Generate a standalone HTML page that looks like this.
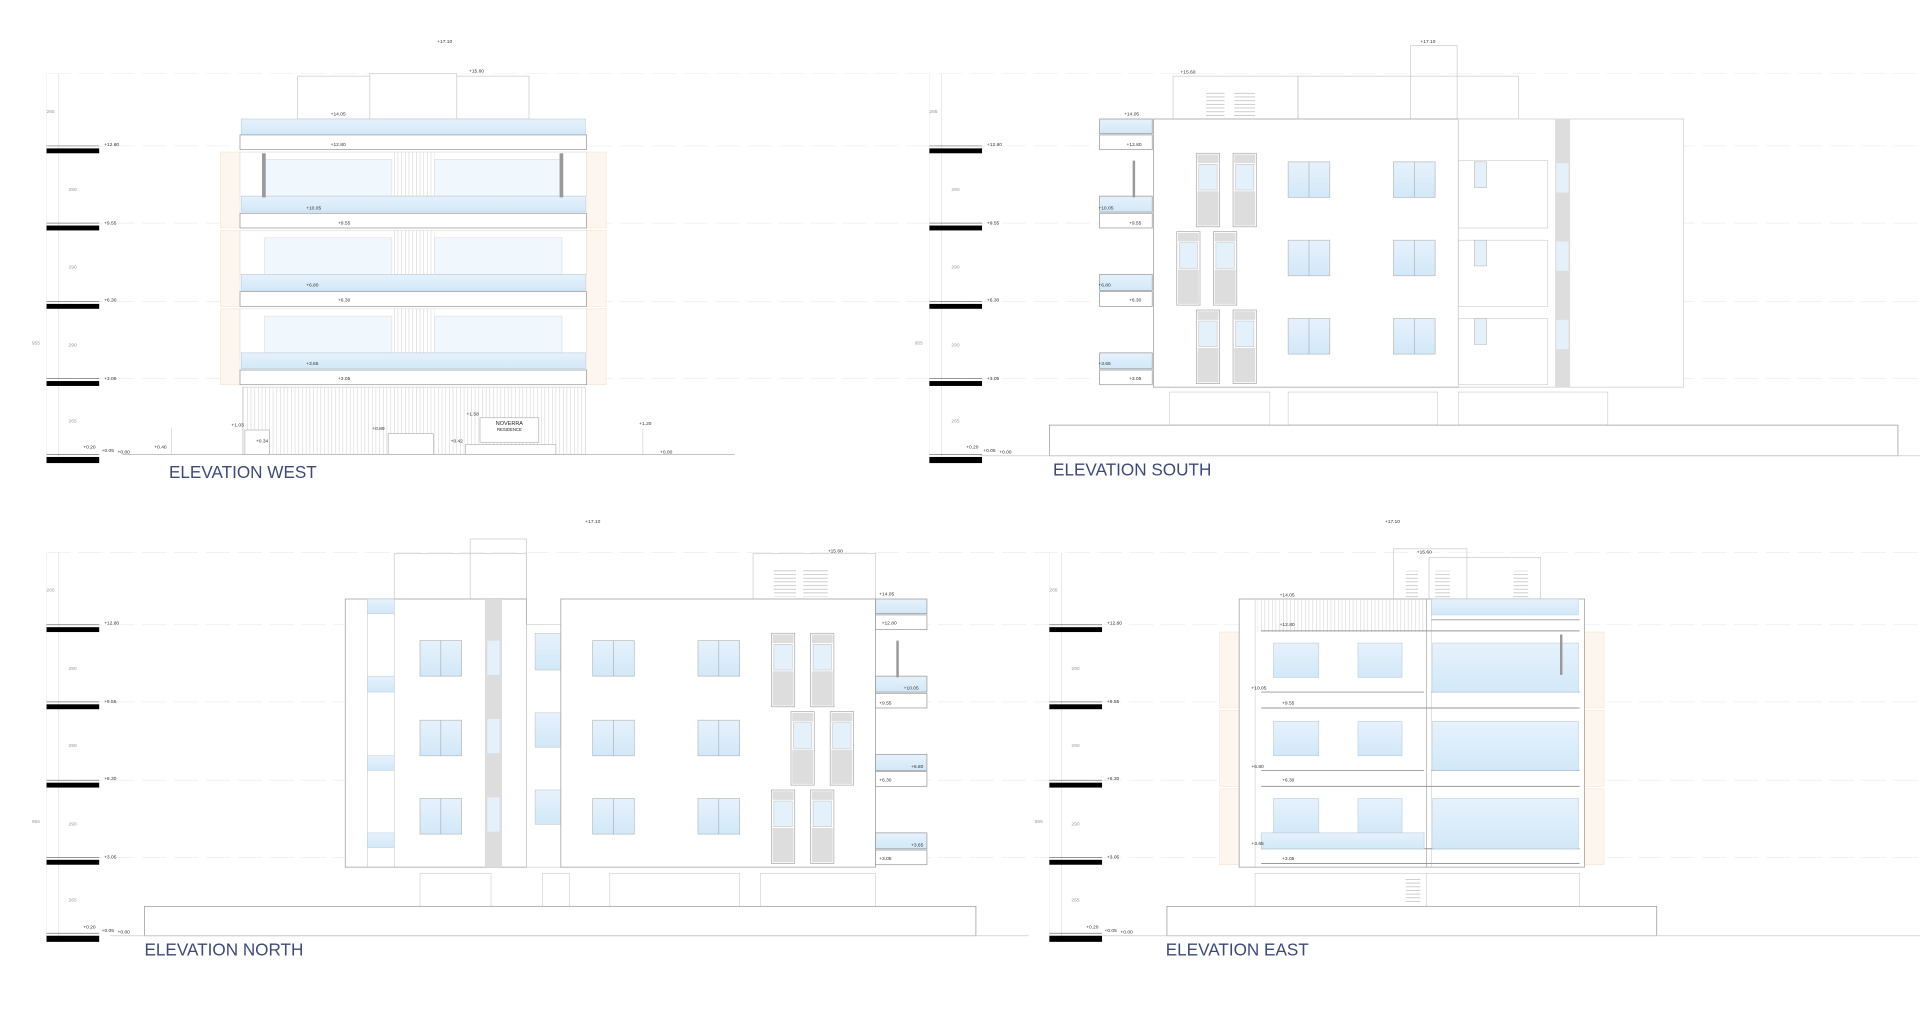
<!DOCTYPE html>
<html><head><meta charset="utf-8"><style>
html,body{margin:0;padding:0;background:#fff;width:1920px;height:1018px;overflow:hidden}
svg{display:block}
text{font-family:"Liberation Sans",sans-serif}
.t{font-size:4px;fill:#333}
.d{font-size:4px;fill:#999}
.ttl{font-size:14px;fill:#3d4a78}
</style></head><body>
<svg width="1920" height="1018" viewBox="0 0 1568 831" xmlns="http://www.w3.org/2000/svg">
<defs>
<g id="lv"><line x1="0" y1="-4" x2="43" y2="-4" stroke="#777" stroke-width="0.6"/><rect x="0" y="-2" width="43" height="4" fill="#000"/></g>
<g id="dim">
<line x1="10" y1="60" x2="10" y2="378" stroke="#ddd" stroke-width="0.5"/>
<line x1="0" y1="60" x2="0" y2="378" stroke="#eee" stroke-width="0.5"/>
<use href="#lv" x="0" y="123"/><use href="#lv" x="0" y="186"/><use href="#lv" x="0" y="250"/><use href="#lv" x="0" y="313"/>
<rect x="0" y="373" width="43" height="5" fill="#000"/><line x1="0" y1="371" x2="43" y2="371" stroke="#777" stroke-width="0.6"/>
<text class="d" x="0" y="92">265</text><text class="d" x="18" y="156">290</text><text class="d" x="18" y="219">290</text><text class="d" x="18" y="283">290</text><text class="d" x="18" y="345">265</text><text class="d" x="-12" y="281">955</text>
<text class="t" x="47" y="119">+12.80</text><text class="t" x="47" y="183">+9.55</text><text class="t" x="47" y="246">+6.30</text><text class="t" x="47" y="310">+3.05</text>
</g>
<pattern id="vl" width="3" height="10" patternUnits="userSpaceOnUse"><line x1="1" y1="0" x2="1" y2="10" stroke="#ccc" stroke-width="0.4"/></pattern>
<pattern id="lv2" width="10" height="3" patternUnits="userSpaceOnUse"><line x1="0" y1="1" x2="10" y2="1" stroke="#bbb" stroke-width="0.6"/></pattern>
<linearGradient id="gl" x1="0" y1="0" x2="0" y2="1"><stop offset="0" stop-color="#e6f2fc"/><stop offset="1" stop-color="#d2e8f8"/></linearGradient>
<g id="tw"><rect x="0" y="0" width="19" height="60" fill="#fff" stroke="#aaa" stroke-width="0.6"/><rect x="1" y="1" width="17" height="7" fill="#ddd"/><rect x="2" y="9" width="15" height="21" fill="#e4f0fa" stroke="#bbb" stroke-width="0.4"/><rect x="1" y="31" width="17" height="28" fill="#ddd"/></g>
<g id="sw"><rect x="0" y="0" width="34" height="29" fill="url(#gl)" stroke="#bbb" stroke-width="0.6"/><line x1="17" y1="0" x2="17" y2="29" stroke="#aaa" stroke-width="0.5"/></g>
<g id="wfloor">
<rect x="196" y="124" width="283" height="36" fill="#fff" stroke="#ddd" stroke-width="0.5"/>
<rect x="216" y="130" width="104" height="30" fill="#f0f7fd" stroke="#dde" stroke-width="0.5"/>
<rect x="355" y="130" width="104" height="30" fill="#f0f7fd" stroke="#dde" stroke-width="0.5"/>
<rect x="320" y="124" width="35" height="36" fill="url(#vl)"/>
<rect x="197" y="160" width="281" height="13" fill="url(#gl)" stroke="#bcd" stroke-width="0.5"/>
<rect x="196" y="174" width="283" height="12" fill="#fff" stroke="#999" stroke-width="0.6"/>
</g>
</defs>

<g stroke="#eee" stroke-width="0.6" stroke-dasharray="20 6">
<line x1="38" y1="60" x2="1568" y2="60"/><line x1="38" y1="119" x2="1568" y2="119"/><line x1="38" y1="182" x2="1568" y2="182"/><line x1="38" y1="246" x2="1568" y2="246"/><line x1="38" y1="309" x2="1568" y2="309"/>
<line x1="38" y1="451" x2="1568" y2="451"/><line x1="38" y1="510" x2="1568" y2="510"/><line x1="38" y1="573" x2="1568" y2="573"/><line x1="38" y1="637" x2="1568" y2="637"/><line x1="38" y1="700" x2="1568" y2="700"/>
</g>

<use href="#dim" x="38" y="0"/>
<use href="#dim" x="759" y="0"/>
<use href="#dim" x="38" y="391"/>
<use href="#dim" x="857" y="391"/>

<!-- ================= WEST ================= -->
<g stroke="#ccc" stroke-width="0.6" fill="none">
<rect x="243" y="62" width="189" height="35"/><rect x="302" y="60" width="71" height="37" fill="#fff"/>
</g>
<text class="t" x="357" y="35">+17.10</text><text class="t" x="383" y="59">+15.60</text>
<g fill="#fdf6ee" stroke="#f4e4d2" stroke-width="0.5">
<rect x="180" y="124" width="16" height="62"/><rect x="479" y="124" width="16" height="62"/>
<rect x="180" y="188" width="16" height="62"/><rect x="479" y="188" width="16" height="62"/>
<rect x="180" y="252" width="16" height="62"/><rect x="479" y="252" width="16" height="62"/>
</g>
<rect x="197" y="97" width="281" height="13" fill="url(#gl)" stroke="#bcd" stroke-width="0.5"/>
<rect x="196" y="110" width="283" height="12" fill="#fff" stroke="#999" stroke-width="0.6"/>
<use href="#wfloor" x="0" y="0"/><use href="#wfloor" x="0" y="64"/><use href="#wfloor" x="0" y="128"/>
<rect x="214" y="125" width="3" height="36" fill="#999"/><rect x="457" y="125" width="3" height="36" fill="#999"/>
<g class="t"><text x="270" y="94">+14.05</text><text x="270" y="119">+12.80</text><text x="250" y="171">+10.05</text><text x="276" y="183">+9.55</text><text x="250" y="234">+6.80</text><text x="276" y="246">+6.30</text><text x="250" y="298">+3.65</text><text x="276" y="310">+3.05</text></g>
<rect x="198" y="316" width="280" height="55" fill="url(#vl)" stroke="#ccc" stroke-width="0.5"/>
<g stroke="#aaa" stroke-width="0.5" fill="#fff">
<rect x="200" y="351" width="20" height="20"/><rect x="317" y="354" width="37" height="17"/><rect x="380" y="363" width="74" height="8"/>
<rect x="392" y="341" width="48" height="20"/>
</g>
<text x="416" y="347" font-size="4.5" text-anchor="middle" fill="#222">NOVERRA</text><text x="416" y="352" font-size="3.5" text-anchor="middle" fill="#222">RESIDENCE</text>
<g class="t"><text x="189" y="348">+1.03</text><text x="209" y="361">+0.34</text><text x="304" y="351">+0.89</text><text x="368" y="361">+0.42</text><text x="381" y="339">+1.58</text><text x="522" y="347">+1.20</text><text x="126" y="366">+0.40</text><text x="68" y="366">+0.20</text><text x="83" y="369">+0.05</text><text x="96" y="370">+0.00</text><text x="539" y="370">+0.00</text></g>
<line x1="100" y1="371" x2="600" y2="371" stroke="#bbb" stroke-width="0.7"/>
<line x1="140" y1="349" x2="140" y2="371" stroke="#ccc" stroke-width="0.5"/><line x1="525" y1="350" x2="525" y2="371" stroke="#ccc" stroke-width="0.5"/>
<text class="ttl" x="138" y="390">ELEVATION WEST</text>

<!-- ================= SOUTH ================= -->
<g stroke="#ccc" stroke-width="0.6" fill="none">
<rect x="958" y="62" width="102" height="35"/><rect x="1152" y="37" width="38" height="60"/><rect x="1060" y="62" width="180" height="35"/>
</g>
<rect x="985" y="75" width="15" height="20" fill="url(#lv2)"/><rect x="1008" y="75" width="17" height="20" fill="url(#lv2)"/>
<text class="t" x="1160" y="35">+17.10</text><text class="t" x="964" y="60">+15.60</text>
<g stroke="#999" stroke-width="0.6">
<rect x="898" y="97" width="43" height="12" fill="url(#gl)"/><rect x="898" y="110" width="43" height="12" fill="#fff"/>
<rect x="898" y="160" width="43" height="13" fill="url(#gl)"/><rect x="898" y="174" width="43" height="12" fill="#fff"/>
<rect x="898" y="224" width="43" height="13" fill="url(#gl)"/><rect x="898" y="238" width="43" height="12" fill="#fff"/>
<rect x="898" y="288" width="43" height="13" fill="url(#gl)"/><rect x="898" y="302" width="43" height="12" fill="#fff"/>
</g>
<rect x="942" y="97" width="249" height="219" fill="#fff" stroke="#aaa" stroke-width="0.7"/>
<rect x="1191" y="97" width="184" height="219" fill="#fff" stroke="#ccc" stroke-width="0.6"/>
<line x1="1282" y1="97" x2="1282" y2="316" stroke="#ddd" stroke-width="0.5"/>
<rect x="925" y="131" width="2" height="30" fill="#999"/>
<use href="#tw" x="977" y="125"/><use href="#tw" x="1007" y="125"/>
<use href="#tw" x="961" y="189"/><use href="#tw" x="991" y="189"/>
<use href="#tw" x="977" y="253"/><use href="#tw" x="1007" y="253"/>
<use href="#sw" x="1052" y="132"/><use href="#sw" x="1138" y="132"/>
<use href="#sw" x="1052" y="196"/><use href="#sw" x="1138" y="196"/>
<use href="#sw" x="1052" y="260"/><use href="#sw" x="1138" y="260"/>
<g stroke="#ccc" stroke-width="0.5" fill="none"><rect x="1191" y="131" width="73" height="55"/><rect x="1191" y="196" width="73" height="54"/><rect x="1191" y="260" width="73" height="54"/></g>
<g fill="#e4f0fa" stroke="#bbb" stroke-width="0.5"><rect x="1204" y="132" width="10" height="21"/><rect x="1204" y="196" width="10" height="21"/><rect x="1204" y="260" width="10" height="21"/></g>
<rect x="1270" y="97" width="12" height="219" fill="#ddd"/>
<g fill="#e4f0fa"><rect x="1271" y="133" width="10" height="24"/><rect x="1271" y="197" width="10" height="24"/><rect x="1271" y="261" width="10" height="24"/></g>
<g class="t"><text x="918" y="94">+14.05</text><text x="920" y="119">+12.80</text><text x="897" y="171">+10.05</text><text x="922" y="183">+9.55</text><text x="897" y="234">+6.80</text><text x="922" y="246">+6.30</text><text x="897" y="298">+3.65</text><text x="922" y="310">+3.05</text><text x="789" y="366">+0.20</text><text x="803" y="369">+0.05</text><text x="816" y="370">+0.00</text></g>
<g stroke="#ccc" stroke-width="0.5" fill="none"><rect x="955" y="320" width="82" height="27"/><rect x="1052" y="320" width="122" height="27"/><rect x="1191" y="320" width="122" height="27"/></g>
<rect x="857" y="347" width="693" height="25" fill="#fff" stroke="#999" stroke-width="0.6"/>
<line x1="800" y1="372" x2="1568" y2="372" stroke="#ccc" stroke-width="0.6"/>
<text class="ttl" x="860" y="388">ELEVATION SOUTH</text>

<!-- ================= NORTH ================= -->
<g stroke="#ccc" stroke-width="0.6" fill="none">
<rect x="322" y="452" width="108" height="37"/><rect x="384" y="440" width="46" height="49"/><rect x="615" y="452" width="100" height="37"/>
</g>
<rect x="632" y="465" width="18" height="22" fill="url(#lv2)"/><rect x="656" y="465" width="20" height="22" fill="url(#lv2)"/>
<text class="t" x="478" y="427">+17.10</text><text class="t" x="676" y="451">+15.60</text>
<rect x="282" y="489" width="148" height="219" fill="#fff" stroke="#aaa" stroke-width="0.7"/>
<line x1="300" y1="489" x2="300" y2="708" stroke="#ccc" stroke-width="0.5"/><line x1="322" y1="489" x2="322" y2="708" stroke="#ccc" stroke-width="0.5"/>
<g fill="url(#gl)" stroke="#bcd" stroke-width="0.4"><rect x="300" y="489" width="22" height="12"/><rect x="300" y="552" width="22" height="13"/><rect x="300" y="617" width="22" height="12"/><rect x="300" y="680" width="22" height="12"/></g>
<rect x="396" y="489" width="14" height="219" fill="#ddd"/>
<g fill="#e4f0fa"><rect x="398" y="523" width="10" height="28"/><rect x="398" y="587" width="10" height="28"/><rect x="398" y="651" width="10" height="28"/></g>
<use href="#sw" x="343" y="523"/><use href="#sw" x="343" y="588"/><use href="#sw" x="343" y="652"/>
<rect x="430" y="510" width="28" height="198" fill="#fff" stroke="#ccc" stroke-width="0.5"/>
<g fill="url(#gl)" stroke="#bbb" stroke-width="0.4"><rect x="437" y="517" width="21" height="30"/><rect x="437" y="582" width="21" height="28"/><rect x="437" y="645" width="21" height="28"/></g>
<rect x="458" y="489" width="257" height="219" fill="#fff" stroke="#aaa" stroke-width="0.7"/>
<use href="#sw" x="484" y="523"/><use href="#sw" x="570" y="523"/>
<use href="#sw" x="484" y="588"/><use href="#sw" x="570" y="588"/>
<use href="#sw" x="484" y="652"/><use href="#sw" x="570" y="652"/>
<use href="#tw" x="630" y="517"/><use href="#tw" x="662" y="517"/>
<use href="#tw" x="646" y="581"/><use href="#tw" x="678" y="581"/>
<use href="#tw" x="630" y="645"/><use href="#tw" x="662" y="645"/>
<g stroke="#999" stroke-width="0.6">
<rect x="715" y="489" width="42" height="12" fill="url(#gl)"/><rect x="715" y="502" width="42" height="12" fill="#fff"/>
<rect x="715" y="552" width="42" height="13" fill="url(#gl)"/><rect x="715" y="566" width="42" height="12" fill="#fff"/>
<rect x="715" y="616" width="42" height="13" fill="url(#gl)"/><rect x="715" y="630" width="42" height="12" fill="#fff"/>
<rect x="715" y="680" width="42" height="13" fill="url(#gl)"/><rect x="715" y="694" width="42" height="12" fill="#fff"/>
</g>
<rect x="732" y="523" width="2" height="30" fill="#999"/>
<g class="t"><text x="718" y="486">+14.05</text><text x="720" y="510">+12.80</text><text x="738" y="563">+10.05</text><text x="718" y="575">+9.55</text><text x="744" y="627">+6.80</text><text x="718" y="638">+6.30</text><text x="744" y="691">+3.65</text><text x="718" y="702">+3.05</text><text x="68" y="758">+0.20</text><text x="83" y="761">+0.05</text><text x="96" y="762">+0.00</text></g>
<g stroke="#ccc" stroke-width="0.5" fill="none"><rect x="343" y="713" width="58" height="27"/><rect x="443" y="713" width="22" height="27"/><rect x="498" y="713" width="106" height="27"/><rect x="621" y="713" width="94" height="27"/></g>
<rect x="118" y="740" width="679" height="24" fill="#fff" stroke="#999" stroke-width="0.6"/>
<line x1="90" y1="764" x2="840" y2="764" stroke="#ccc" stroke-width="0.6"/>
<text class="ttl" x="118" y="780">ELEVATION NORTH</text>

<!-- ================= EAST ================= -->
<g stroke="#ccc" stroke-width="0.6" fill="none">
<rect x="1138" y="448" width="60" height="41"/><rect x="1167" y="455" width="91" height="34"/>
</g>
<g><rect x="1148" y="466" width="10" height="22" fill="url(#lv2)"/><rect x="1172" y="466" width="12" height="22" fill="url(#lv2)"/><rect x="1236" y="466" width="12" height="22" fill="url(#lv2)"/></g>
<text class="t" x="1131" y="427">+17.10</text><text class="t" x="1157" y="452">+15.60</text>
<g fill="#fdf6ee" stroke="#f4e4d2" stroke-width="0.5">
<rect x="996" y="516" width="16" height="62"/><rect x="1294" y="516" width="16" height="62"/>
<rect x="996" y="580" width="16" height="62"/><rect x="1294" y="580" width="16" height="62"/>
<rect x="996" y="644" width="16" height="62"/><rect x="1294" y="644" width="16" height="62"/>
</g>
<rect x="1012" y="489" width="282" height="219" fill="#fff" stroke="#aaa" stroke-width="0.7"/>
<line x1="1025" y1="489" x2="1025" y2="708" stroke="#ccc" stroke-width="0.5"/>
<line x1="1165" y1="489" x2="1165" y2="708" stroke="#aaa" stroke-width="0.6"/><line x1="1169" y1="489" x2="1169" y2="708" stroke="#ccc" stroke-width="0.5"/>
<rect x="1027" y="489" width="136" height="27" fill="url(#vl)"/>
<rect x="1169" y="489" width="120" height="13" fill="url(#gl)" stroke="#bcd" stroke-width="0.4"/>
<g stroke="#999" stroke-width="0.8">
<line x1="1030" y1="515" x2="1290" y2="515"/><line x1="1030" y1="578" x2="1290" y2="578"/><line x1="1030" y1="642" x2="1290" y2="642"/><line x1="1030" y1="705" x2="1290" y2="705"/>
<line x1="1030" y1="565" x2="1163" y2="565"/><line x1="1030" y1="629" x2="1163" y2="629"/><line x1="1030" y1="693" x2="1290" y2="693"/>
<line x1="1169" y1="506" x2="1290" y2="506"/><line x1="1169" y1="565" x2="1290" y2="565"/><line x1="1169" y1="629" x2="1290" y2="629"/>
</g>
<g fill="url(#gl)" stroke="#bcd" stroke-width="0.5">
<rect x="1040" y="525" width="37" height="28"/><rect x="1109" y="525" width="36" height="28"/>
<rect x="1040" y="589" width="37" height="28"/><rect x="1109" y="589" width="36" height="28"/>
<rect x="1040" y="652" width="37" height="28"/><rect x="1109" y="652" width="36" height="28"/>
<rect x="1170" y="525" width="119" height="40"/><rect x="1170" y="589" width="119" height="40"/><rect x="1170" y="652" width="119" height="41"/>
<rect x="1030" y="680" width="133" height="13"/>
</g>
<rect x="1274" y="518" width="2" height="33" fill="#999"/>
<g class="t"><text x="1045" y="487">+14.05</text><text x="1045" y="511">+12.80</text><text x="1022" y="563">+10.05</text><text x="1047" y="575">+9.55</text><text x="1022" y="627">+6.80</text><text x="1047" y="638">+6.30</text><text x="1022" y="690">+3.65</text><text x="1047" y="702">+3.05</text><text x="887" y="758">+0.20</text><text x="902" y="761">+0.05</text><text x="915" y="762">+0.00</text></g>
<g stroke="#ccc" stroke-width="0.5" fill="none"><rect x="1025" y="713" width="265" height="27"/><line x1="1165" y1="713" x2="1165" y2="740"/></g>
<rect x="1148" y="716" width="12" height="22" fill="url(#lv2)"/>
<rect x="953" y="740" width="400" height="24" fill="#fff" stroke="#999" stroke-width="0.6"/>
<line x1="900" y1="764" x2="1568" y2="764" stroke="#ccc" stroke-width="0.6"/>
<text class="ttl" x="952" y="780">ELEVATION EAST</text>
</svg>
</body></html>
